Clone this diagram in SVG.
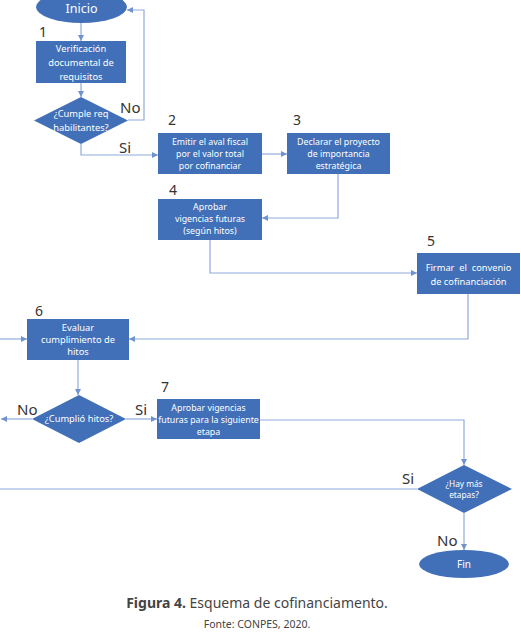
<svg xmlns="http://www.w3.org/2000/svg" width="521" height="635" viewBox="0 0 521 635">
<style>
.n{fill:#4170B8;}
.t{fill:#fff;font-family:"Noto Sans",sans-serif;font-size:9.3px;text-anchor:middle;}
.s{font-size:8.8px;}
.c{fill:none;stroke:#8FAADC;stroke-width:1.2;}
.l{fill:#333;font-family:"Noto Sans",sans-serif;font-size:15px;}
.num{fill:#333;font-family:"Noto Sans",sans-serif;font-size:14px;}
</style>
<defs>
<marker id="a" viewBox="0 0 10 10" refX="10" refY="5" markerWidth="6" markerHeight="6" markerUnits="userSpaceOnUse" orient="auto">
<path d="M0,0 L10,5 L0,10 z" fill="#6F93CF"/>
</marker>
</defs>
<rect width="521" height="635" fill="#fff"/>
<g id="connectors">
<path class="c" d="M81,23 V41" marker-end="url(#a)"/>
<path class="c" d="M81,83 V97" marker-end="url(#a)"/>
<path class="c" d="M128,120 H144 V10 H127" marker-end="url(#a)"/>
<path class="c" d="M81,144 V155 H158" marker-end="url(#a)"/>
<path class="c" d="M262,154 H287" marker-end="url(#a)"/>
<path class="c" d="M338,174 V218 H262" marker-end="url(#a)"/>
<path class="c" d="M210,240 V273 H417" marker-end="url(#a)"/>
<path class="c" d="M468,294 V339 H129" marker-end="url(#a)"/>
<path class="c" d="M0,339 H27" marker-end="url(#a)"/>
<path class="c" d="M78,360 V395" marker-end="url(#a)"/>
<path class="c" d="M32,419 H1" marker-end="url(#a)"/>
<path class="c" d="M126,419 H157" marker-end="url(#a)"/>
<path class="c" d="M260,420 H464 V465" marker-end="url(#a)"/>
<path class="c" d="M417,489 H0"/>
<path class="c" d="M464,513 V550" marker-end="url(#a)"/>
</g>
<g id="labels">
<text class="l" x="120" y="113">No</text>
<text class="l" x="119" y="153">Si</text>
<text class="l" x="17" y="415">No</text>
<text class="l" x="135" y="415">Si</text>
<text class="l" x="402" y="484">Si</text>
<text class="l" x="437" y="546">No</text>
<text class="num" x="39" y="37">1</text>
<text class="num" x="168" y="125">2</text>
<text class="num" x="293" y="125">3</text>
<text class="num" x="169" y="195">4</text>
<text class="num" x="427" y="246">5</text>
<text class="num" x="35" y="316">6</text>
<text class="num" x="161" y="392">7</text>
</g>
<g id="inicio">
<ellipse class="n" cx="81.5" cy="7" rx="45.5" ry="16"/>
<text class="t" x="81.5" y="12.5" style="font-size:12.5px">Inicio</text>
</g>
<g id="n1">
<rect class="n" x="36" y="41" width="90" height="42"/>
<text class="t" x="81" y="52">Verificación</text>
<text class="t" x="81" y="66">documental de</text>
<text class="t" x="81" y="80">requisitos</text>
</g>
<g id="d1">
<polygon class="n" points="81,97 128,120.5 81,144 34,120.5"/>
<text class="t" x="81" y="117">¿Cumple req</text>
<text class="t" x="81" y="131">habilitantes?</text>
</g>
<g id="n2">
<rect class="n" x="158" y="133" width="104" height="41"/>
<text class="t s" x="210" y="145">Emitir el aval fiscal</text>
<text class="t s" x="210" y="157">por el valor total</text>
<text class="t s" x="210" y="169">por cofinanciar</text>
</g>
<g id="n3">
<rect class="n" x="287" y="133" width="103" height="41"/>
<text class="t s" x="338.5" y="145">Declarar el proyecto</text>
<text class="t s" x="338.5" y="157">de importancia</text>
<text class="t s" x="338.5" y="169">estratégica</text>
</g>
<g id="n4">
<rect class="n" x="158" y="199" width="104" height="41"/>
<text class="t s" x="210" y="210">Aprobar</text>
<text class="t s" x="210" y="222">vigencias futuras</text>
<text class="t s" x="210" y="234">(según hitos)</text>
</g>
<g id="n5">
<rect class="n" x="417" y="253" width="103" height="41"/>
<text class="t" x="468.5" y="271" xml:space="preserve">Firmar  el  convenio</text>
<text class="t" x="468.5" y="285">de cofinanciación</text>
</g>
<g id="n6">
<rect class="n" x="27" y="319" width="102" height="41"/>
<text class="t" x="78" y="331">Evaluar</text>
<text class="t" x="78" y="343">cumplimiento de</text>
<text class="t" x="78" y="355">hitos</text>
</g>
<g id="d2">
<polygon class="n" points="79,395 126,419 79,443 32,419"/>
<text class="t" x="79" y="422">¿Cumplió hitos?</text>
</g>
<g id="n7">
<rect class="n" x="157" y="399" width="103" height="40"/>
<text class="t s" x="208.5" y="411">Aprobar vigencias</text>
<text class="t s" x="208.5" y="423">futuras para la siguiente</text>
<text class="t s" x="208.5" y="435">etapa</text>
</g>
<g id="d3">
<polygon class="n" points="464,465 512,489 464,513 417,489"/>
<text class="t" x="464" y="487" style="font-size:8.3px">¿Hay más</text>
<text class="t" x="464" y="498" style="font-size:8.3px">etapas?</text>
</g>
<g id="fin">
<ellipse class="n" cx="464" cy="564" rx="45" ry="14"/>
<text class="t" x="464" y="567.5" style="font-size:10px">Fin</text>
</g>
<g id="caption">
<text x="257" y="608" style="fill:#444;font-family:'Noto Sans',sans-serif;font-size:14px;text-anchor:middle"><tspan font-weight="bold">Figura 4.</tspan> Esquema de cofinanciamento.</text>
<text x="257" y="628" style="fill:#444;font-family:'Noto Sans',sans-serif;font-size:10.5px;text-anchor:middle">Fonte: CONPES, 2020.</text>
</g>
</svg>
